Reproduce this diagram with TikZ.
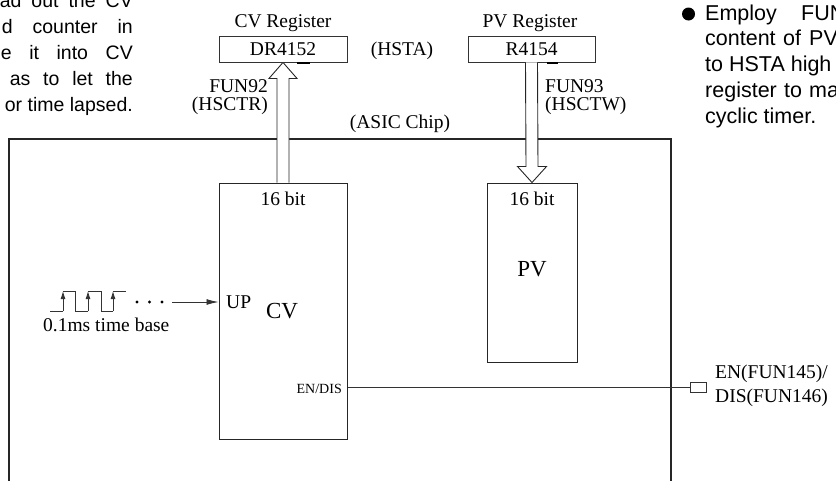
\documentclass[tikz,border=0pt]{standalone}
\usepackage{fontspec}
\setmainfont{Liberation Serif}
\setsansfont{Liberation Sans}
\usetikzlibrary{arrows.meta,calc}
\newcommand{\lblfont}{\fontsize{19.5}{22}\selectfont}
\newcommand{\bigfont}{\fontsize{23}{26}\selectfont}
\newcommand{\smallfont}{\fontsize{14}{16}\selectfont}
\newcommand{\bodyfont}{\sffamily\fontsize{19.5}{24}\selectfont}
\newcommand{\rbodyfont}{\sffamily\fontsize{21.5}{25}\selectfont}
\begin{document}
\begin{tikzpicture}[x=1pt,y=-1pt,
  every node/.style={inner sep=0pt, font=\lblfont},
  regbox/.style={draw=black!80, line width=0.9pt, inner sep=0pt, minimum height=26pt},
  blockbox/.style={draw=black!85, line width=1pt, inner sep=0pt},
  chipbox/.style={draw=black!85, line width=1.4pt, inner sep=0pt},
  hollow/.style={draw=black!85, line width=0.9pt, fill=white, line join=miter},
  wire/.style={draw=black!80, line width=0.9pt},
  body/.style={font=\bodyfont, anchor=base west},
  rbody/.style={font=\rbodyfont, anchor=base west},
  lbl/.style={anchor=base}]
\useasboundingbox (0,0) rectangle (836,480);
\clip (0,0) rectangle (836,480);

% ASIC chip
\node[chipbox, minimum width=662pt, minimum height=380pt] (chip) at (340,329) {};
\node[lbl] (asic) at (400,128) {(ASIC Chip)};

% registers
\node[regbox, minimum width=128pt] (dr) at (283,49) {DR4152};
\node[regbox, minimum width=127pt] (r4) at (531.5,49) {R4154};
\node[lbl] (cvreg) at (283,27) {CV Register};
\node[lbl] (pvreg) at (530,27) {PV Register};
\node[lbl] (hsta) at (402,55) {(HSTA)};
\draw[line width=2pt] ($(dr.south)+(14,1)$) -- ($(dr.south)+(27,1)$);
\draw[line width=2pt] ($(r4.south)+(15.5,1)$) -- ($(r4.south)+(26.5,1)$);

% counter blocks
\node[blockbox, minimum width=128pt, minimum height=256pt] (cv) at (283,311) {};
\node[blockbox, minimum width=90pt, minimum height=179pt] (pv) at (532,272.5) {};
\node[lbl] (cvbit) at (283,205) {16 bit};
\node[lbl] (pvbit) at (532,205) {16 bit};
\node[lbl, font=\bigfont] (pvtxt) at (532,276) {PV};
\node[lbl, font=\bigfont] (cvtxt) at (282,318) {CV};
\node[anchor=base west] (up) at (226,308) {UP};
\node[anchor=base east, font=\smallfont] (endis) at (342,393) {EN/DIS};

% hollow arrows
\draw[hollow] ($(cv.north)+(-6,0)$) -- ($(dr.south)+(-6,16)$) -- ($(dr.south)+(-14,16)$)
  -- (dr.south) -- ($(dr.south)+(14,16)$) -- ($(dr.south)+(6,16)$) -- ($(cv.north)+(6,0)$);
\draw[hollow] ($(r4.south)+(-6,0)$) -- ($(pv.north)+(-6,-16)$) -- ($(pv.north)+(-14.5,-16)$)
  -- (pv.north) -- ($(pv.north)+(14.5,-16)$) -- ($(pv.north)+(6,-16)$) -- ($(r4.south)+(6,0)$);
\node[anchor=base east] (fun92) at (268,92) {FUN92};
\node[anchor=base east] (hsctr) at (268,110) {(HSCTR)};
\node[anchor=base west] (fun93) at (545,92) {FUN93};
\node[anchor=base west] (hsctw) at (545,110) {(HSCTW)};

% enable line
\node[draw=black!80, line width=0.9pt, minimum width=16pt, minimum height=10pt] (enbox) at (698,387) {};
\draw[wire] (enbox.west) -- (enbox.west -| cv.east);
\node[anchor=base west] (en1) at (715,378) {EN(FUN145)/};
\node[anchor=base west] (en2) at (715,402) {DIS(FUN146)};

% time base pulses
\draw[wire] (50,311) -- (63,311) (63,291) -- (75,291) -- (75,311) -- (88,311)
  (88,291) -- (101,291) -- (101,311) -- (113,311) (113,291) -- (126,291);
\foreach \xx in {63,88,113}
  \draw[wire, -{Latex[length=8pt,width=5pt]}] (\xx,311) -- (\xx,291);
\foreach \xx in {137,149.5,162}
  \fill (\xx,302) circle (1.6pt);
\coordinate (tb) at (172,302);
\draw[wire, -{Latex[length=12pt,width=6pt]}] (tb) -- (tb -| cv.west);
\node[anchor=base west] (tbase) at (43,331) {0.1ms time base};

% left paragraph (clipped)
\node[body, anchor=base east] (l1) at (133,7) {\hbox to 133pt{ad\hfill out\hfill the\hfill CV}};
\node[body, anchor=base east] (l2) at (133,33) {\hbox to 131pt{d\hfill counter\hfill in}};
\node[body, anchor=base east] (l3) at (133,59) {\hbox to 132pt{e\hfill it\hfill into\hfill CV}};
\node[body, anchor=base east] (l4) at (133,85) {\hbox to 123pt{as\hfill to\hfill let\hfill the}};
\node[body, anchor=base east] (l5) at (133,111) {or time lapsed.};

% right paragraph (clipped)
\fill (688.5,14) circle (6.5pt);
\node[rbody] (r1a) at (705,20) {Employ};
\node[rbody] (r1b) at (801,20) {FUN};
\node[rbody] (r2a) at (705,45.7) {content};
\node[rbody] (r2b) at (783,45.7) {of};
\node[rbody] (r2c) at (809,45.7) {PV};
\node[rbody] (r3) at (705,71.4) {to HSTA high};
\node[rbody] (r4a) at (705,97) {register};
\node[rbody] (r4b) at (784,97) {to};
\node[rbody] (r4c) at (809,97) {ma};
\node[rbody] (r5) at (705,123) {cyclic timer.};
\end{tikzpicture}
\end{document}
